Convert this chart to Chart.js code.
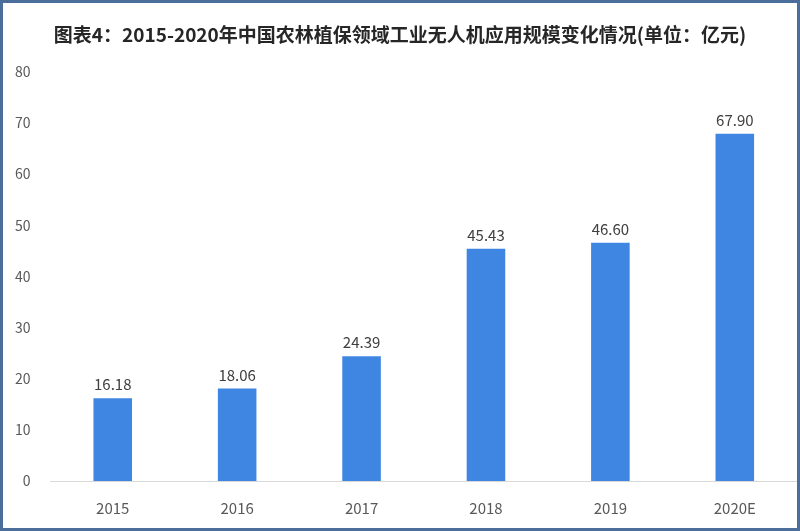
<!DOCTYPE html>
<html lang="zh">
  <head>
    <meta charset="UTF-8" />
    <title>农林植保工业无人机应用规模</title>
    <script src="https://cdn.jsdelivr.net/npm/chart.js@4.4.1/dist/chart.umd.min.js"></script>
    <style>
      html, body { margin: 0; padding: 0; background: #fff; }
      .frame {
        width: 800px;
        height: 531px;
        box-sizing: border-box;
        border: 3px solid #4b6f9a;
        background: #fff;
      }
      #chart { display: block; }
    </style>
  </head>
  <body>
    <div class="frame">
      <canvas id="chart" width="794" height="525"></canvas>
    </div>

    <script>
      const years = ['2015', '2016', '2017', '2018', '2019', '2020E'];
      const marketSize = [16.18, 18.06, 24.39, 45.43, 46.6, 67.9];
      const yTicks = [0, 10, 20, 30, 40, 50, 60, 70, 80];

      const titleText = '图表4：2015-2020年中国农林植保领域工业无人机应用规模变化情况(单位：亿元)';
      const fontFamily = '"Noto Sans CJK SC", "Noto Sans", sans-serif';

      // value labels above each bar
      const barLabels = {
        id: 'barLabels',
        afterDatasetsDraw(chart) {
          const ctx = chart.ctx;
          const meta = chart.getDatasetMeta(0);
          ctx.save();
          ctx.font = '15px ' + fontFamily;
          ctx.fillStyle = '#404040';
          ctx.textAlign = 'center';
          ctx.textBaseline = 'bottom';
          meta.data.forEach(function (bar, i) {
            ctx.fillText(marketSize[i].toFixed(2), bar.x, bar.y - 6);
          });
          ctx.restore();
        },
      };

      new Chart(document.getElementById('chart'), {
        type: 'bar',
        data: {
          labels: years,
          datasets: [
            {
              data: marketSize,
              backgroundColor: '#3f86e2',
              borderWidth: 0,
              barPercentage: 0.31,
              categoryPercentage: 1,
            },
          ],
        },
        options: {
          responsive: false,
          animation: false,
          layout: { padding: { left: 0, right: 0, top: 0, bottom: 1 } },
          plugins: {
            legend: { display: false },
            tooltip: { enabled: false },
            title: {
              display: true,
              text: titleText,
              color: '#262626',
              font: { family: fontFamily, size: 19, weight: 'bold' },
              padding: { top: 20, bottom: 26 },
            },
          },
          scales: {
            y: {
              min: 0,
              max: 80,
              afterBuildTicks: function (axis) {
                axis.ticks = yTicks.map(function (v) { return { value: v }; });
              },
              grid: { display: false },
              border: { display: false },
              ticks: {
                color: '#595959',
                padding: 12,
                font: { family: fontFamily, size: 14 },
              },
            },
            x: {
              grid: { display: false },
              border: { display: true, color: '#d9d9d9', width: 1 },
              ticks: {
                color: '#595959',
                padding: 10,
                font: { family: fontFamily, size: 15 },
              },
            },
          },
        },
        plugins: [barLabels],
      });
    </script>
  </body>
</html>
